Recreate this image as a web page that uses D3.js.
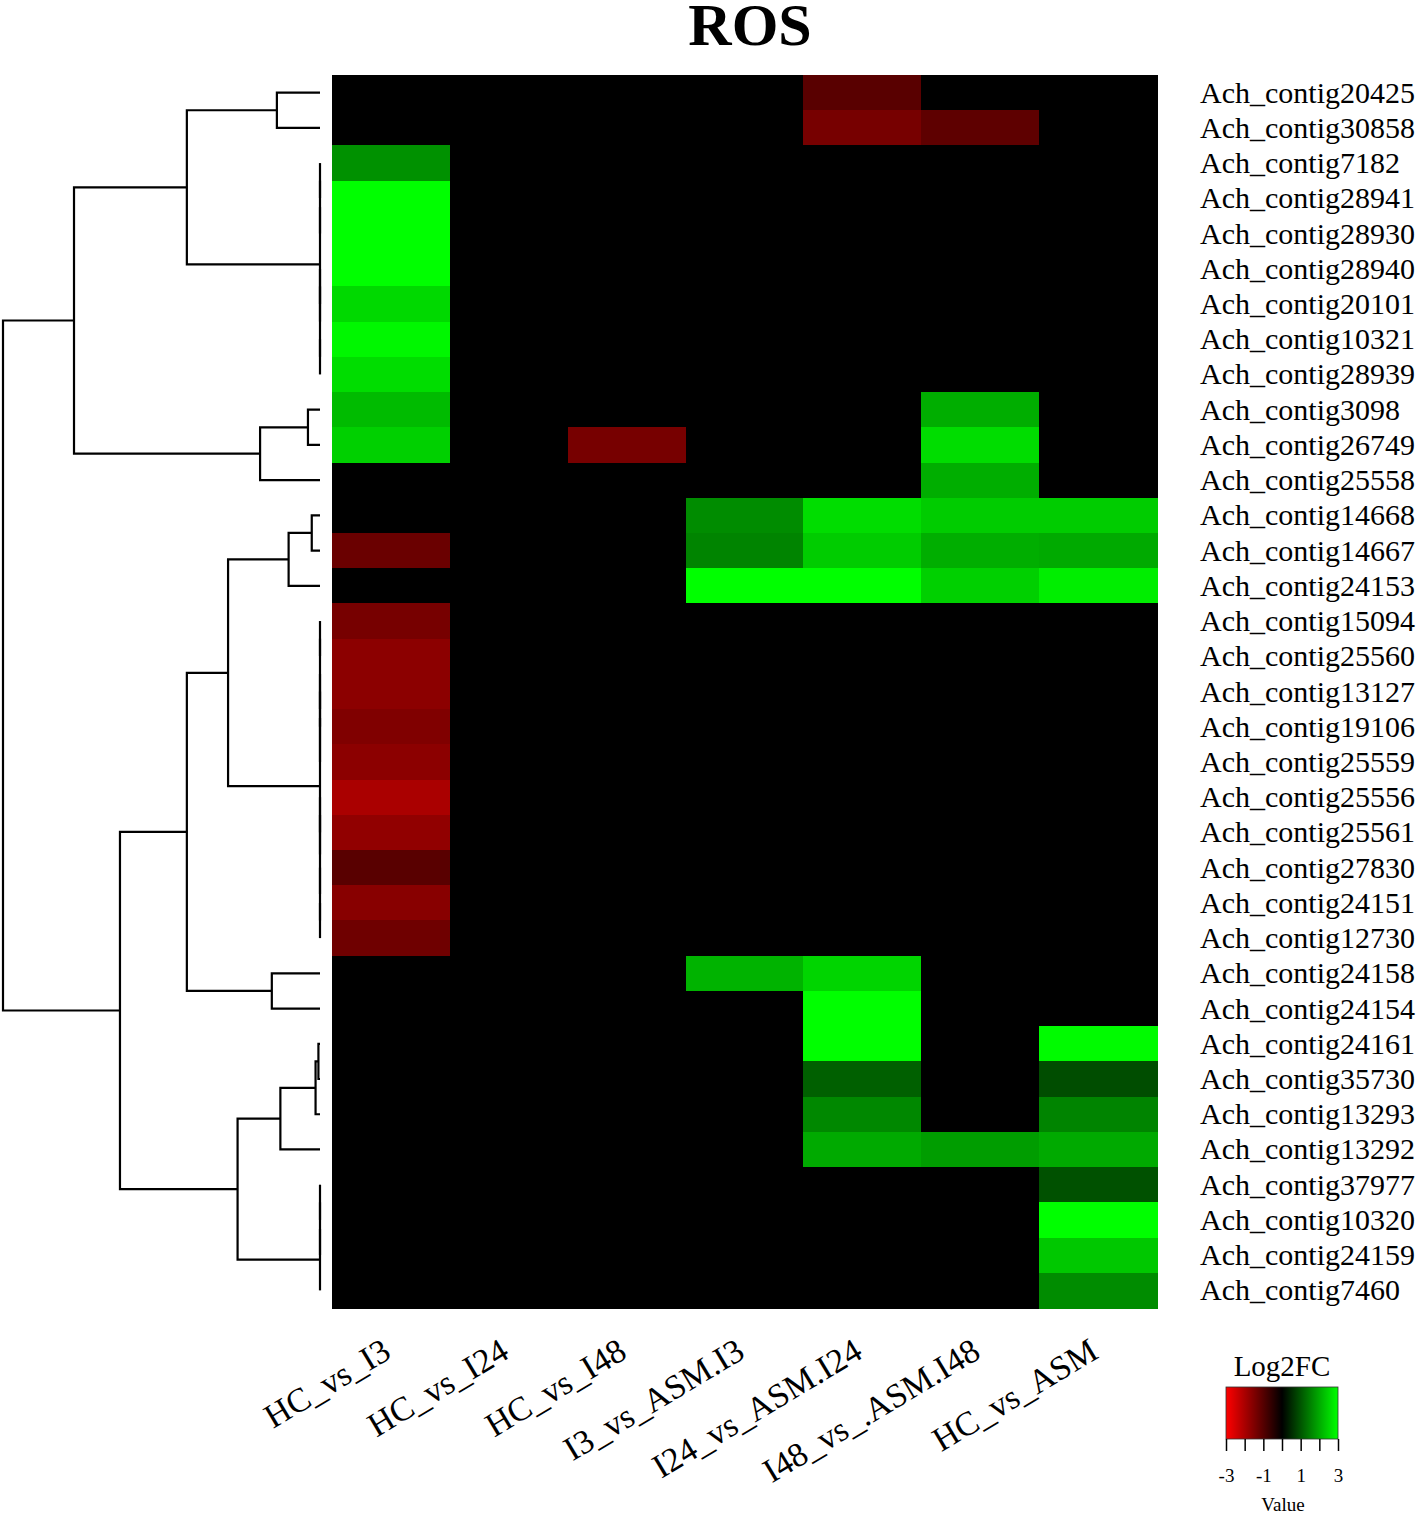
<!DOCTYPE html>
<html>
<head>
<meta charset="utf-8">
<script src="https://cdn.jsdelivr.net/npm/d3@7"></script>
<style>
body { margin: 0; background: #fff; }
text { font-family: "Liberation Serif", "Times New Roman", serif; fill: #000; }
</style>
</head>
<body>
<svg id="chart" width="1418" height="1515"></svg>
<script>
// row and column labels
var rowNames = ["Ach_contig20425", "Ach_contig30858", "Ach_contig7182", "Ach_contig28941", "Ach_contig28930",
    "Ach_contig28940", "Ach_contig20101", "Ach_contig10321", "Ach_contig28939", "Ach_contig3098",
    "Ach_contig26749", "Ach_contig25558", "Ach_contig14668", "Ach_contig14667", "Ach_contig24153",
    "Ach_contig15094", "Ach_contig25560", "Ach_contig13127", "Ach_contig19106", "Ach_contig25559",
    "Ach_contig25556", "Ach_contig25561", "Ach_contig27830", "Ach_contig24151", "Ach_contig12730",
    "Ach_contig24158", "Ach_contig24154", "Ach_contig24161", "Ach_contig35730", "Ach_contig13293",
    "Ach_contig13292", "Ach_contig37977", "Ach_contig10320", "Ach_contig24159", "Ach_contig7460"];
var colNames = ["HC_vs_I3", "HC_vs_I24", "HC_vs_I48", "I3_vs_ASM.I3", "I24_vs_ASM.I24", "I48_vs_.ASM.I48", "HC_vs_ASM"];

// log2FC per column, one value per row (same order as rowNames)
var hcVsI3 = [0, 0, 1.7, 3, 3, 3, 2.55, 2.9, 2.6, 2.2,
    2.45, 0, 0, -1.25, 0, -1.4, -1.65, -1.65, -1.5, -1.65,
    -2.0, -1.7, -1.05, -1.6, -1.3, 0, 0, 0, 0, 0,
    0, 0, 0, 0, 0];
var hcVsI24 = [0, 0, 0, 0, 0, 0, 0, 0, 0, 0,
    0, 0, 0, 0, 0, 0, 0, 0, 0, 0,
    0, 0, 0, 0, 0, 0, 0, 0, 0, 0,
    0, 0, 0, 0, 0];
var hcVsI48 = [0, 0, 0, 0, 0, 0, 0, 0, 0, 0,
    -1.4, 0, 0, 0, 0, 0, 0, 0, 0, 0,
    0, 0, 0, 0, 0, 0, 0, 0, 0, 0,
    0, 0, 0, 0, 0];
var i3VsAsmI3 = [0, 0, 0, 0, 0, 0, 0, 0, 0, 0,
    0, 0, 1.65, 1.55, 3, 0, 0, 0, 0, 0,
    0, 0, 0, 0, 0, 2.1, 0, 0, 0, 0,
    0, 0, 0, 0, 0];
var i24VsAsmI24 = [-1.05, -1.4, 0, 0, 0, 0, 0, 0, 0, 0,
    0, 0, 2.6, 2.4, 3, 0, 0, 0, 0, 0,
    0, 0, 0, 0, 0, 2.5, 3, 3, 1.13, 1.6,
    2.0, 0, 0, 0, 0];
var i48VsAsmI48 = [0, -1.1, 0, 0, 0, 0, 0, 0, 0, 2.05,
    2.6, 2.05, 2.4, 2.05, 2.45, 0, 0, 0, 0, 0,
    0, 0, 0, 0, 0, 0, 0, 0, 0, 0,
    1.85, 0, 0, 0, 0];
var hcVsAsm = [0, 0, 0, 0, 0, 0, 0, 0, 0, 0,
    0, 0, 2.4, 2.0, 2.8, 0, 0, 0, 0, 0,
    0, 0, 0, 0, 0, 0, 0, 2.95, 0.9, 1.55,
    2.0, 0.95, 3, 2.35, 1.65];
var columns = [hcVsI3, hcVsI24, hcVsI48, i3VsAsmI3, i24VsAsmI24, i48VsAsmI48, hcVsAsm];

// row dendrogram, hclust style: negative = leaf (row index + 1), positive = earlier merge
var merges = [
    [-1, -2, 1.36], [-3, -4, 0], [2, -5, 0], [-6, -7, 0], [-8, -9, 0],
    [4, 5, 0], [3, 6, 0], [1, 7, 4.2], [-10, -11, 0.38], [9, -12, 1.89],
    [8, 10, 7.76], [-13, -14, 0.26], [12, -15, 0.99], [-16, -17, 0], [-18, -19, 0],
    [14, 15, 0], [16, -20, 0], [-21, -22, 0], [-24, -25, 0], [-23, 19, 0],
    [18, 20, 0], [17, 21, 0], [13, 22, 2.9], [-26, -27, 1.52], [23, 24, 4.2],
    [-28, -29, 0.05], [26, -30, 0.14], [27, -31, 1.25], [-32, -33, 0], [29, -34, 0],
    [30, -35, 0], [28, 31, 2.6], [25, 32, 6.31], [11, 33, 10]
];

// legend
var legendTicks = [-3, -2, -1, 0, 1, 2, 3];
var legendLabels = [-3, -1, 1, 3];

var svg = d3.select('#chart');

// scales
var x = d3.scaleBand().domain(colNames).range([332, 1157]);
var y = d3.scaleBand().domain(rowNames).range([75, 1308]);
var color = d3.scaleLinear().domain([-3, 0, 3]).range(["#ff0000", "#000000", "#00ff00"]).clamp(true);
var dx = d3.scaleLinear().domain([0, 10]).range([320, 3]);

// title
svg.append("text")
    .attr("x", 750)
    .attr("y", 45)
    .attr("text-anchor", "middle")
    .style("font-size", "60px")
    .style("font-weight", "bold")
    .text("ROS");

// heatmap cells
var cells = [];
columns.forEach(function(col, c){
    col.forEach(function(v, r){
        cells.push({col: colNames[c], row: rowNames[r], v: v});
    });
});
svg.append("g")
    .selectAll("rect")
    .data(cells)
    .join("rect")
    .attr("x", function(d){ return x(d.col); })
    .attr("y", function(d){ return y(d.row); })
    .attr("width", x.bandwidth() + 0.5)
    .attr("height", y.bandwidth() + 0.5)
    .attr("fill", function(d){ return color(d.v); })
    .attr("shape-rendering", "crispEdges");

// row labels
svg.append("g")
    .selectAll("text")
    .data(rowNames)
    .join("text")
    .attr("x", 1200)
    .attr("y", function(d){ return y(d) + y.bandwidth() / 2 + 10; })
    .style("font-size", "30px")
    .text(function(d){ return d; });

// column labels, rotated
svg.append("g")
    .selectAll("text")
    .data(colNames)
    .join("text")
    .attr("text-anchor", "end")
    .attr("transform", function(d){
        return "translate(" + (x(d) + x.bandwidth() / 2 + 2) + ",1357) rotate(-31)";
    })
    .style("font-size", "34px")
    .text(function(d){ return d; });

// dendrogram
var nodes = [];
function pos(id){
    if (id < 0) return {h: 0, y: y(rowNames[-id - 1]) + y.bandwidth() / 2};
    return nodes[id - 1];
}
var dendro = svg.append("g")
    .attr("fill", "none")
    .attr("stroke", "#000")
    .attr("stroke-width", 2.2);
merges.forEach(function(m){
    var a = pos(m[0]);
    var b = pos(m[1]);
    var node = {h: m[2], y: (a.y + b.y) / 2};
    nodes.push(node);
    dendro.append("path")
        .attr("d", "M" + dx(a.h) + "," + a.y + "H" + dx(node.h) + "V" + b.y + "H" + dx(b.h));
});

// color key
var lx = d3.scaleLinear().domain([-3, 3]).range([1226, 1338]);
var grad = svg.append("defs").append("linearGradient")
    .attr("id", "keygrad")
    .attr("x1", "0%").attr("x2", "100%");
legendTicks.forEach(function(t){
    grad.append("stop")
        .attr("offset", ((t + 3) / 6 * 100) + "%")
        .attr("stop-color", color(t));
});
svg.append("rect")
    .attr("x", lx(-3))
    .attr("y", 1387)
    .attr("width", lx(3) - lx(-3))
    .attr("height", 52)
    .attr("fill", "url(#keygrad)")
    .attr("stroke", "#333")
    .attr("stroke-width", 0.8);

var key = svg.append("g")
    .attr("transform", "translate(0,1439)")
    .call(d3.axisBottom(lx)
        .tickValues(legendTicks)
        .tickSize(12)
        .tickFormat(function(d){
            return legendLabels.includes(d) ? (d < 0 ? "-" + Math.abs(d) : String(d)) : "";
        }));
key.select(".domain").remove();
key.selectAll("line").attr("stroke", "#000").attr("stroke-width", 1.5);
key.selectAll("text")
    .attr("y", 30)
    .style("font-family", '"Liberation Serif", "Times New Roman", serif')
    .style("font-size", "19px")
    .attr("fill", "#000");

svg.append("text")
    .attr("x", 1282)
    .attr("y", 1376)
    .attr("text-anchor", "middle")
    .style("font-size", "29px")
    .text("Log2FC");
svg.append("text")
    .attr("x", 1283)
    .attr("y", 1511)
    .attr("text-anchor", "middle")
    .style("font-size", "19px")
    .text("Value");
</script>
</body>
</html>
